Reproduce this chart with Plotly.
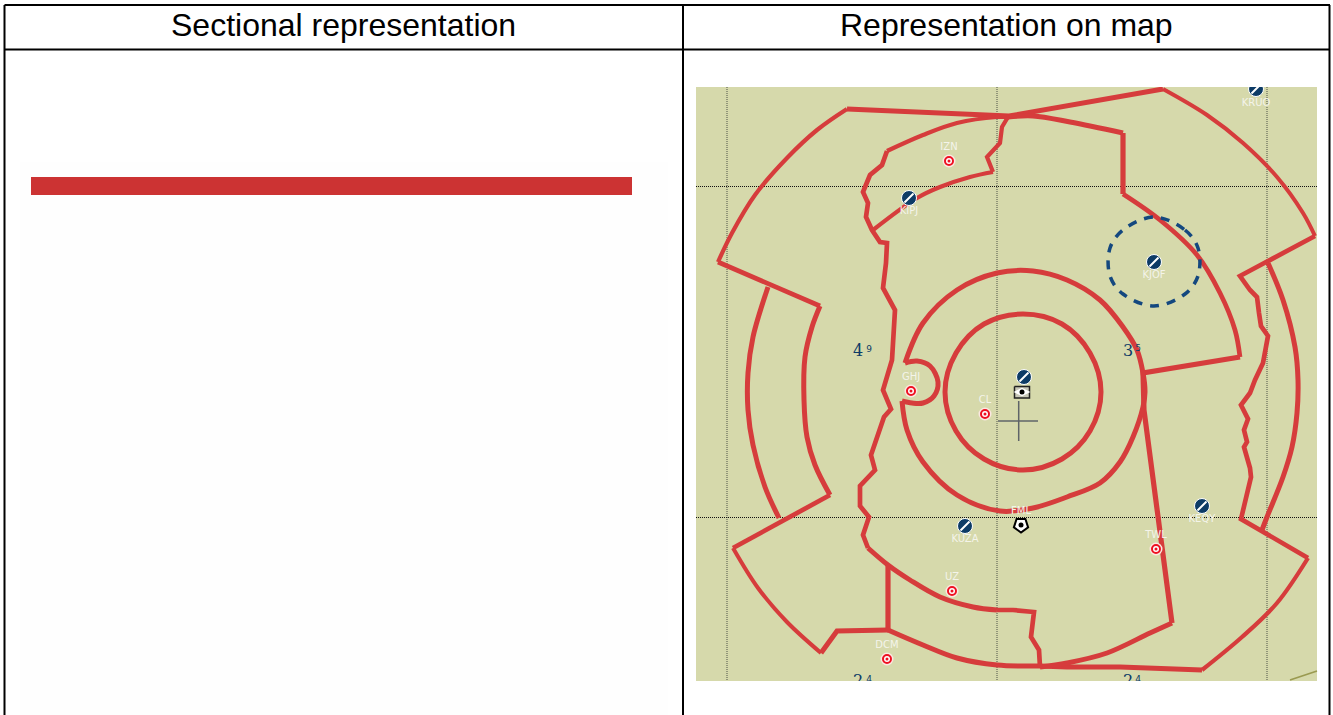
import plotly.graph_objects as go

# Table text
header_left = "Sectional representation"
header_right = "Representation on map"

# Colours
MAP_BG = "#d6d9ab"
RED = "#d63c3c"
NAVY = "#0d3b66"
LABEL = "#f4f4ea"

# Airspace boundaries (page pixels).
nw_arc_x = [718, 732, 755, 787, 817, 847]
nw_arc_y = [262, 233, 195, 158, 130, 109]
top_x = [847, 925, 1009, 1163]
top_y = [109, 112, 116, 89]
ne_arc_x = [1163, 1207, 1243, 1277, 1303, 1315]
ne_arc_y = [89, 115, 143, 177, 213, 236]
east_edge_x = [1315, 1240, 1250, 1257, 1259, 1261, 1268, 1266, 1263, 1255, 1250, 1241, 1248, 1244, 1247, 1244, 1250, 1251, 1246, 1241, 1308]
east_edge_y = [236, 276, 290, 297, 313, 326, 336, 350, 363, 380, 393, 405, 419, 430, 442, 447, 468, 477, 497, 519, 558]
se_arc_x = [1308, 1277, 1242, 1202]
se_arc_y = [558, 603, 637, 670]
bottom_x = [1202, 1175, 1120, 1067, 1040]
bottom_y = [670, 669, 667, 667, 666]
south_arc_x = [1040, 997, 957, 923, 888]
south_arc_y = [666, 665, 658, 645, 630]
sw_notch_x = [888, 837, 821]
sw_notch_y = [630, 631, 653]
sw_arc_x = [821, 787, 758, 733]
sw_arc_y = [653, 622, 588, 548]
west_link_x = [733, 830]
west_link_y = [548, 495]
west_inner_x = [830, 815, 807, 804, 805, 812, 820]
west_inner_y = [495, 465, 437, 400, 357, 327, 306]
west_top_x = [820, 718]
west_top_y = [306, 262]
west_arc_x = [768, 753, 748, 748, 753, 765, 779]
west_arc_y = [287, 337, 373, 410, 445, 487, 518]
east_arc_x = [1268, 1283, 1295, 1298, 1297, 1292, 1283, 1267, 1262]
east_arc_y = [263, 300, 347, 380, 413, 447, 477, 517, 530]

sector_top_x = [1008, 1033, 1070, 1123]
sector_top_y = [117, 116, 122, 133]
sector_step_x = [1123, 1123]
sector_step_y = [133, 194]
sector_arc_x = [1123, 1160, 1197, 1220, 1235, 1240]
sector_arc_y = [194, 220, 255, 293, 330, 357]
sector_in_x = [1240, 1143, 1144, 1172]
sector_in_y = [357, 373, 410, 623]
sector_low_x = [1172, 1150, 1107, 1067, 1040]
sector_low_y = [623, 633, 653, 663, 667]
sector_jag_x = [1040, 1039, 1031, 1034, 1013, 997]
sector_jag_y = [667, 650, 637, 612, 610, 610]
mid_arc_x = [997, 973, 940, 910, 888, 868]
mid_arc_y = [610, 607, 597, 580, 565, 548]
west_jag_x = [868, 863, 869, 860, 860, 875, 871, 884, 891, 883, 892, 895, 883, 886, 887, 880, 872, 866, 868, 863, 870, 882, 887]
west_jag_y = [548, 535, 517, 506, 486, 470, 455, 417, 409, 390, 360, 310, 288, 263, 243, 242, 230, 217, 203, 192, 175, 165, 151]
north_arc_x = [887, 923, 957, 997, 1008]
north_arc_y = [151, 135, 123, 117, 117]
wedge_jag_x = [1008, 1002, 1000, 987, 993]
wedge_jag_y = [117, 127, 143, 157, 172]
wedge_arc_x = [993, 970, 940, 917, 873]
wedge_arc_y = [172, 177, 187, 198, 230]
divider_x = [888, 888]
divider_y = [565, 630]

tma_x = [905, 923, 957, 997, 1033, 1067, 1100, 1123, 1137, 1143, 1145, 1143, 1133, 1120, 1100, 1067, 1033, 1000, 957, 923, 907, 902]
tma_y = [363, 323, 290, 273, 271, 280, 300, 327, 350, 373, 392, 407, 437, 462, 483, 497, 508, 511, 495, 462, 430, 401]
notch_x = [905, 917, 930, 938, 934, 923, 912, 902]
notch_y = [363, 361, 366, 382, 396, 403, 403, 401]
ctr_x = [1101, 1090, 1062, 1023, 984, 956, 945, 956, 984, 1023, 1062, 1090, 1101]
ctr_y = [392, 431, 459, 470, 459, 431, 392, 353, 324, 314, 324, 353, 392]

# Dashed circle round KJOF
dash_x = [1154, 1185, 1198, 1198, 1185, 1154, 1123, 1110, 1110, 1123, 1154]
dash_y = [217, 230, 248, 276, 294, 306, 294, 276, 248, 230, 217]

# Graticule
grid_v = [727, 997, 1267]
grid_h = [186.5, 517.5]

# Beacons and fixes
vor_x = [909, 1154, 1202, 965, 1024, 1256]
vor_y = [198, 262, 506, 526, 377, 89]
vor_names = ["KIPJ", "KJOF", "KEQY", "KUZA", "KRUO"]
vor_lx = [909, 1154, 1202, 965, 1256]
vor_ly = [211, 275, 519, 539, 103]

fix_x = [949, 911, 985, 1156, 952, 887]
fix_y = [161, 391, 414, 549, 591, 659]
fix_names = ["IZN", "GHJ", "CL", "TWL", "UZ", "DCM"]

fml_x, fml_y = [1021], [525]
box_x = [1014.5, 1029.5, 1029.5, 1014.5, 1014.5]
box_y = [386.5, 386.5, 398, 398, 386.5]

# Area figures: big digit and small raised digit
big_text = ["4", "3", "2", "2"]
big_x = [858, 1128, 858, 1128]
big_y = [352, 352, 682, 682]
small_text = ["9", "5", "4", "4"]
small_x = [869, 1138, 869, 1138]
small_y = [350, 349, 680, 680]

fig = go.Figure()

def add_path(x, y, width=4.8, smooth=False, color=RED, dash=None):
    line = dict(color=color, width=width, shape="spline" if smooth else "linear")
    if dash:
        line["dash"] = dash
    fig.add_trace(go.Scatter(x=x, y=y, mode="lines", line=line, hoverinfo="skip", showlegend=False))

def add_markers(x, y, **marker):
    fig.add_trace(go.Scatter(x=x, y=y, mode="markers", marker=marker, hoverinfo="skip", showlegend=False))

def add_text(x, y, text, size=10, family="DejaVu Sans", color=LABEL):
    fig.add_trace(go.Scatter(x=x, y=y, mode="text", text=text,
                             textfont=dict(family=family, size=size, color=color),
                             hoverinfo="skip", showlegend=False))

shapes = [
    dict(type="rect", x0=20, x1=668, y0=162, y1=715, fillcolor="#fefefe", line_width=0, layer="below"),
    dict(type="rect", x0=696, x1=1317, y0=87, y1=681, fillcolor=MAP_BG, line_width=0, layer="below"),
    dict(type="rect", x0=31, x1=632, y0=177, y1=195, fillcolor="#cc3333", line_width=0, layer="below"),
]
for gx in grid_v:
    shapes.append(dict(type="line", x0=gx, x1=gx, y0=87, y1=681, line=dict(color="#4d5046", width=1, dash="1px,1px"), layer="below"))
for gy in grid_h:
    shapes.append(dict(type="line", x0=696, x1=1317, y0=gy, y1=gy, line=dict(color="#111111", width=1, dash="1px,1px"), layer="below"))
shapes += [
    dict(type="line", x0=998, x1=1038, y0=421, y1=421, line=dict(color="#5f6468", width=1.5), layer="below"),
    dict(type="line", x0=1018.7, x1=1018.7, y0=401, y1=441, line=dict(color="#5f6468", width=1.5), layer="below"),
    dict(type="line", x0=1290, x1=1317, y0=680, y1=671, line=dict(color="#9a9a50", width=1.5), layer="below"),
]

add_path(nw_arc_x, nw_arc_y, 4.2, True)
add_path(top_x, top_y, 5)
add_path(ne_arc_x, ne_arc_y, 4, True)
add_path(east_edge_x, east_edge_y, 4.7)
add_path(se_arc_x, se_arc_y, 4.2, True)
add_path(bottom_x, bottom_y, 5)
add_path(south_arc_x, south_arc_y, 5, True)
add_path(sw_notch_x, sw_notch_y, 5)
add_path(sw_arc_x, sw_arc_y, 4, True)
add_path(west_link_x, west_link_y, 4.7)
add_path(west_inner_x, west_inner_y, 5, True)
add_path(west_top_x, west_top_y, 4.7)
add_path(west_arc_x, west_arc_y, 5, True)
add_path(east_arc_x, east_arc_y, 5, True)
add_path(sector_top_x, sector_top_y, 5, True)
add_path(sector_step_x, sector_step_y, 5.2)
add_path(sector_arc_x, sector_arc_y, 4.7, True)
add_path(sector_in_x, sector_in_y, 5.2)
add_path(sector_low_x, sector_low_y, 5, True)
add_path(sector_jag_x, sector_jag_y, 4.7)
add_path(mid_arc_x, mid_arc_y, 5, True)
add_path(west_jag_x, west_jag_y, 4.7)
add_path(north_arc_x, north_arc_y, 4.2, True)
add_path(wedge_jag_x, wedge_jag_y, 4.2)
add_path(wedge_arc_x, wedge_arc_y, 4.2, True)
add_path(divider_x, divider_y, 5.2)
add_path(tma_x, tma_y, 5, True)
add_path(notch_x, notch_y, 5, True)
add_path(ctr_x, ctr_y, 5, True)
add_path(dash_x, dash_y, 3.5, True, color="#14487f", dash="9px,8px")

# beacons
add_markers(vor_x, vor_y, size=15, color=NAVY, line=dict(color="white", width=1))
add_markers(vor_x, vor_y, size=9, symbol="line-ne", line=dict(color="white", width=2))
add_text(vor_lx, vor_ly, vor_names)

# fixes: halo, red disc, white ring, red centre
add_markers(fix_x, fix_y, size=11.5, color="#ee1122", line=dict(color="#fbe8e0", width=1.5))
add_markers(fix_x, fix_y, size=6, color="white")
add_markers(fix_x, fix_y, size=3, color="#ee1122")
add_text(fix_x, [v - 13.5 for v in fix_y], fix_names)

# FML
add_markers(fml_x, fml_y, size=15, symbol="pentagon", angle=180, color="white", line=dict(color="black", width=2))
add_markers(fml_x, fml_y, size=5, color="black")
add_text(fml_x, [511], ["FML"])

# aerodrome box
fig.add_trace(go.Scatter(x=box_x, y=box_y, mode="lines", fill="toself", fillcolor="#c8c8b8",
                         line=dict(color="#222222", width=1.5), hoverinfo="skip", showlegend=False))
add_markers([1022], [392], size=12, symbol="diamond-wide", color="white")
add_markers([1022], [392], size=5, color="black")

# area figures
add_text(big_x, big_y, big_text, size=16, family="DejaVu Serif", color=NAVY)
add_text(small_x, small_y, small_text, size=9, family="DejaVu Sans", color=NAVY)

# trim anything beyond the map frame, then the table rules
shapes += [
    dict(type="rect", x0=690, x1=1326, y0=55, y1=87, fillcolor="white", line_width=0, layer="above"),
    dict(type="rect", x0=690, x1=1326, y0=681, y1=715, fillcolor="white", line_width=0, layer="above"),
    dict(type="line", x0=4.5, x1=1330, y0=5, y1=5, line=dict(color="black", width=2)),
    dict(type="line", x0=4.5, x1=1330, y0=49.5, y1=49.5, line=dict(color="black", width=2)),
    dict(type="line", x0=4.5, x1=4.5, y0=5, y1=715, line=dict(color="black", width=2)),
    dict(type="line", x0=683, x1=683, y0=5, y1=715, line=dict(color="black", width=2)),
    dict(type="line", x0=1329.5, x1=1329.5, y0=5, y1=715, line=dict(color="black", width=2)),
]

annotations = [
    dict(x=343.5, y=25, text=header_left, showarrow=False, font=dict(family="Liberation Sans", size=32, color="black")),
    dict(x=1006.5, y=25, text=header_right, showarrow=False, font=dict(family="Liberation Sans", size=32, color="black")),
]

fig.update_layout(
    width=1333, height=715, margin=dict(l=0, r=0, t=0, b=0),
    paper_bgcolor="white", plot_bgcolor="white", showlegend=False,
    xaxis=dict(range=[0, 1333], visible=False, fixedrange=True),
    yaxis=dict(range=[715, 0], visible=False, fixedrange=True),
    shapes=shapes, annotations=annotations,
)

fig.write_html("out.html", post_script="document.body.style.margin='0';document.body.style.overflow='hidden';",
               config={"displayModeBar": False})
